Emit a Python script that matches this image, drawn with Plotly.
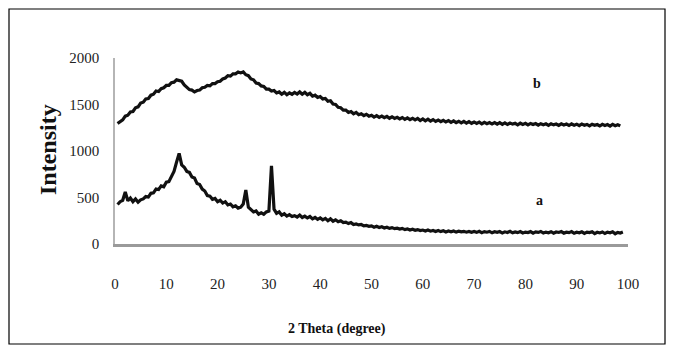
import numpy as np
import plotly.graph_objects as go

# 2-theta sampling grid (degrees)
theta_a = np.arange(0.5, 99.01, 0.5)
theta_b = np.arange(0.5, 98.51, 0.5)

# Series a (lower pattern), intensity
intensity_a = [
    425, 455, 470, 560, 465, 495, 455, 485, 450, 475,
    485, 510, 505, 545, 550, 590, 585, 625, 615, 665,
    670, 730, 780, 880, 975, 850, 825, 780, 770, 720,
    710, 650, 640, 590, 570, 520, 515, 480, 490, 455,
    470, 440, 455, 420, 430, 400, 410, 385, 395, 430,
    580, 395, 370, 345, 355, 320, 335, 320, 345, 355,
    840, 375, 330, 345, 310, 325, 300, 315, 295, 305,
    290, 310, 285, 300, 280, 295, 270, 285, 265, 280,
    260, 275, 250, 270, 245, 260, 240, 250, 230, 235,
    220, 230, 210, 215, 205, 210, 195, 200, 190, 195,
    180, 190, 178, 185, 172, 180, 168, 176, 165, 170,
    160, 168, 155, 163, 150, 158, 147, 155, 145, 150,
    140, 150, 138, 146, 135, 145, 133, 142, 130, 140,
    132, 140, 128, 138, 130, 136, 127, 135, 126, 134,
    125, 136, 122, 133, 127, 135, 120, 132, 125, 134,
    118, 131, 124, 136, 120, 130, 122, 134, 119, 128,
    123, 133, 117, 130, 125, 135, 118, 128, 121, 132,
    116, 129, 124, 134, 117, 127, 122, 133, 115, 126,
    120, 131, 114, 128, 123, 132, 112, 126, 119, 130,
    113, 127, 121, 131, 110, 125, 118, 128,
]

# Series b (upper pattern)
intensity_b = [
    1295, 1320, 1335, 1375, 1385, 1420, 1425, 1465, 1475, 1515,
    1525, 1560, 1565, 1600, 1610, 1645, 1640, 1670, 1680, 1705,
    1705, 1735, 1740, 1765, 1755, 1750, 1710, 1690, 1660, 1655,
    1635, 1650, 1655, 1680, 1685, 1705, 1700, 1725, 1725, 1745,
    1750, 1775, 1785, 1810, 1805, 1830, 1830, 1850, 1840, 1850,
    1820, 1810, 1775, 1765, 1730, 1725, 1700, 1695, 1665, 1665,
    1645, 1650, 1625, 1635, 1610, 1630, 1605, 1625, 1610, 1630,
    1612, 1635, 1610, 1630, 1605, 1620, 1590, 1600, 1575, 1585,
    1560, 1565, 1535, 1540, 1505, 1500, 1470, 1465, 1440, 1440,
    1415, 1425, 1400, 1415, 1390, 1400, 1380, 1395, 1375, 1385,
    1365, 1380, 1362, 1375, 1358, 1372, 1352, 1368, 1350, 1362,
    1345, 1360, 1340, 1356, 1338, 1352, 1334, 1350, 1328, 1345,
    1325, 1342, 1322, 1338, 1318, 1333, 1315, 1330, 1312, 1326,
    1308, 1324, 1305, 1320, 1302, 1318, 1300, 1316, 1298, 1312,
    1296, 1310, 1292, 1308, 1294, 1306, 1290, 1305, 1288, 1304,
    1287, 1302, 1285, 1300, 1289, 1298, 1282, 1299, 1286, 1297,
    1280, 1296, 1284, 1295, 1278, 1294, 1283, 1292, 1276, 1293,
    1281, 1290, 1275, 1292, 1279, 1289, 1274, 1291, 1278, 1288,
    1272, 1290, 1277, 1286, 1270, 1288, 1276, 1285, 1269, 1287,
    1274, 1284, 1268, 1286, 1272, 1283, 1270,
]

x_ticks = [0, 10, 20, 30, 40, 50, 60, 70, 80, 90, 100]
y_ticks = [0, 500, 1000, 1500, 2000]
labels = {"b": (82.3, 1731), "a": (82.8, 473)}

serif = "Liberation Serif, Times New Roman, serif"

# page body has an 8px margin: figure is laid out in its own coordinates
W, H = 666, 348
L, R, T, B = 107, 46, 50, 112
PW, PH = W - L - R, H - T - B


def px(xf):
    return (xf - L) / PW


def py(yf):
    return (H - B - yf) / PH


fig = go.Figure()
fig.add_trace(go.Scatter(x=theta_a, y=intensity_a, mode="lines",
                         line=dict(color="#111111", width=3.2), showlegend=False))
fig.add_trace(go.Scatter(x=theta_b, y=intensity_b, mode="lines",
                         line=dict(color="#111111", width=3.2), showlegend=False))

for txt, (lx, ly) in labels.items():
    fig.add_annotation(x=lx, y=ly, text=f"<b>{txt}</b>", showarrow=False,
                       xanchor="center", yanchor="middle",
                       font=dict(family=serif, size=14, color="#111111"))

# axis titles
fig.add_annotation(xref="paper", yref="paper", x=px(329), y=py(321),
                   text="<b>2 Theta (degree)</b>", showarrow=False,
                   xanchor="center", yanchor="middle",
                   font=dict(family=serif, size=14, color="#111111"))
fig.add_annotation(xref="paper", yref="paper", x=px(40), y=py(142),
                   text="<b>Intensity</b>", showarrow=False, textangle=-90,
                   xanchor="center", yanchor="middle",
                   font=dict(family=serif, size=24, color="#111111"))

# outer frame
fig.add_shape(type="rect", xref="paper", yref="paper",
              x0=px(1), x1=px(657), y0=py(336), y1=py(1),
              line=dict(color="#000000", width=1.2), fillcolor="rgba(0,0,0,0)")

fig.update_layout(
    width=W, height=H,
    margin=dict(l=L, r=R, t=T, b=B),
    paper_bgcolor="white", plot_bgcolor="white",
    font=dict(family=serif, size=15, color="#222222"),
)
fig.update_xaxes(range=[0, 100], tickvals=x_ticks, showgrid=False, zeroline=False,
                 showline=True, linecolor="#9a9a9a", linewidth=3, ticks="",
                 ticklabelstandoff=24, tickfont=dict(family=serif, size=15, color="#222222"))
fig.update_yaxes(range=[0, 2000], tickvals=y_ticks, showgrid=False, zeroline=False,
                 showline=True, linecolor="#b5b5b5", linewidth=1.5, ticks="",
                 ticklabelstandoff=11, tickfont=dict(family=serif, size=15, color="#222222"))

fig.write_html("out.html", config={"displayModeBar": False})
